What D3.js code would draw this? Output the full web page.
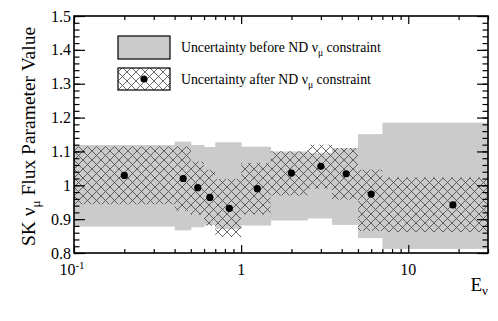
<!DOCTYPE html>
<html>
<head>
<meta charset="utf-8">
<script src="https://cdn.jsdelivr.net/npm/d3@7"></script>
<style>
  body { margin: 0; background: #fff; }
  svg { display: block; font-family: "Liberation Serif", "Times New Roman", serif; }
  .axis path { display: none; }
  .axis line { stroke: #000; stroke-width: 1.2; }
</style>
</head>
<body>
<div id="chart"></div>
<script>
// bins of neutrino energy (GeV), first bin starts at 0
var binLow = [0, 0.4, 0.5, 0.6, 0.7, 1.0, 1.5, 2.5, 3.5, 5.0, 7.0]
var binHigh = [0.4, 0.5, 0.6, 0.7, 1.0, 1.5, 2.5, 3.5, 5.0, 7.0, 30]
var binCenter = [0.2, 0.45, 0.55, 0.65, 0.85, 1.25, 2.0, 3.0, 4.25, 6.0, 18.5]
// post-fit central values
var postValue = [1.029, 1.020, 0.993, 0.964, 0.932, 0.990, 1.036, 1.056, 1.034, 0.974, 0.942]
// band before ND constraint
var preHigh = [1.119, 1.129, 1.119, 1.113, 1.127, 1.114, 1.100, 1.095, 1.110, 1.151, 1.185]
var preLow = [0.878, 0.867, 0.876, 0.883, 0.871, 0.881, 0.896, 0.902, 0.883, 0.844, 0.812]
// band after ND constraint
var postHigh = [1.115, 1.115, 1.070, 1.046, 1.019, 1.066, 1.100, 1.120, 1.110, 1.046, 1.023]
var postLow = [0.944, 0.925, 0.913, 0.880, 0.847, 0.914, 0.970, 0.990, 0.958, 0.865, 0.862]

var xMajor = [0.1, 1, 10]
var xMinor = [0.2, 0.3, 0.4, 0.5, 0.6, 0.7, 0.8, 0.9, 2, 3, 4, 5, 6, 7, 8, 9, 20, 30]
var yMajor = [0.8, 0.9, 1.0, 1.1, 1.2, 1.3, 1.4, 1.5]
var yLabels = ["0.8", "0.9", "1", "1.1", "1.2", "1.3", "1.4", "1.5"]

var W = 498, H = 321
var margin = {top: 16, right: 10, bottom: 68, left: 74}
var width = W - margin.left - margin.right,
    height = H - margin.top - margin.bottom

var svg = d3.select("#chart").append("svg")
    .attr("width", W).attr("height", H)

var defs = svg.append("defs")
var pat = defs.append("pattern")
    .attr("id", "xhatch")
    .attr("patternUnits", "userSpaceOnUse")
    .attr("width", 9).attr("height", 9)
pat.append("path").attr("d", "M0,0 L9,9 M-1,8 L1,10 M8,-1 L10,1")
    .attr("stroke", "#444").attr("stroke-width", 0.8)
pat.append("path").attr("d", "M0,9 L9,0 M-1,1 L1,-1 M8,10 L10,8")
    .attr("stroke", "#444").attr("stroke-width", 0.8)

var g = svg.append("g")
    .attr("transform", "translate(" + margin.left + "," + margin.top + ")")

var x = d3.scaleLog().domain([0.1, 30]).range([0, width])
var y = d3.scaleLinear().domain([0.8, 1.5]).range([height, 0])

function xl(v) { return x(Math.max(v, 0.1)) }

// gray band (before)
g.selectAll(".pre").data(binLow).enter().append("rect")
    .attr("x", function(d, i) { return xl(binLow[i]) })
    .attr("width", function(d, i) { return xl(binHigh[i]) - xl(binLow[i]) + 0.5 })
    .attr("y", function(d, i) { return y(preHigh[i]) })
    .attr("height", function(d, i) { return y(preLow[i]) - y(preHigh[i]) })
    .attr("fill", "#cbcbcb")

// hatched band (after)
g.selectAll(".post").data(binLow).enter().append("rect")
    .attr("x", function(d, i) { return xl(binLow[i]) })
    .attr("width", function(d, i) { return xl(binHigh[i]) - xl(binLow[i]) })
    .attr("y", function(d, i) { return y(postHigh[i]) })
    .attr("height", function(d, i) { return y(postLow[i]) - y(postHigh[i]) })
    .attr("fill", "url(#xhatch)")

// points
g.selectAll(".pt").data(binCenter).enter().append("circle")
    .attr("cx", function(d) { return x(d) })
    .attr("cy", function(d, i) { return y(postValue[i]) })
    .attr("r", 3.6)
    .attr("fill", "#000")

// axes with inward ticks
function addAxis(axis, tr) {
    var a = g.append("g").attr("class", "axis")
    if (tr) a.attr("transform", tr)
    a.call(axis)
    return a
}
addAxis(d3.axisBottom(x).tickValues(xMajor).tickSize(-8).tickFormat(""), "translate(0," + height + ")")
addAxis(d3.axisBottom(x).tickValues(xMinor).tickSize(-4).tickFormat(""), "translate(0," + height + ")")
addAxis(d3.axisTop(x).tickValues(xMajor).tickSize(-8).tickFormat(""))
addAxis(d3.axisTop(x).tickValues(xMinor).tickSize(-4).tickFormat(""))
var yMinor = d3.range(0.8, 1.5001, 0.02)
addAxis(d3.axisLeft(y).tickValues(yMajor).tickSize(-11).tickFormat(""))
addAxis(d3.axisLeft(y).tickValues(yMinor).tickSize(-5.5).tickFormat(""))
addAxis(d3.axisRight(y).tickValues(yMajor).tickSize(-11).tickFormat(""), "translate(" + width + ",0)")
addAxis(d3.axisRight(y).tickValues(yMinor).tickSize(-5.5).tickFormat(""), "translate(" + width + ",0)")

// frame
g.append("rect").attr("width", width).attr("height", height)
    .attr("fill", "none").attr("stroke", "#000").attr("stroke-width", 1.6)

// y tick labels
g.selectAll(".ylab").data(yMajor).enter().append("text")
    .attr("x", -3).attr("y", function(d) { return y(d) + 5.5 })
    .attr("text-anchor", "end").attr("font-size", 16)
    .text(function(d, i) { return yLabels[i] })

// x tick labels
var lab01 = g.append("text").attr("x", x(0.1) - 2).attr("y", height + 22)
    .attr("text-anchor", "middle").attr("font-size", 16)
lab01.append("tspan").text("10")
lab01.append("tspan").attr("dy", -6).attr("font-size", 11).text("-1")
g.append("text").attr("x", x(1)).attr("y", height + 22)
    .attr("text-anchor", "middle").attr("font-size", 16).text("1")
g.append("text").attr("x", x(10)).attr("y", height + 22)
    .attr("text-anchor", "middle").attr("font-size", 16).text("10")

// axis titles
var xt = g.append("text").attr("x", width).attr("y", height + 38)
    .attr("text-anchor", "end").attr("font-size", 19)
xt.append("tspan").text("E")
xt.append("tspan").attr("dy", 4).attr("font-size", 13).text("ν")

var yt = svg.append("text")
    .attr("transform", "translate(35," + (margin.top + height / 2 + 2) + ") rotate(-90)")
    .attr("text-anchor", "middle").attr("font-size", 19.5)
yt.append("tspan").text("SK ν")
yt.append("tspan").attr("dy", 5).attr("font-size", 13).text("μ")
yt.append("tspan").attr("dy", -5).text(" Flux Parameter Value")

// legend
var leg = svg.append("g").attr("transform", "translate(118,36)")
leg.append("rect").attr("width", 52).attr("height", 23)
    .attr("fill", "#cbcbcb").attr("stroke", "#000").attr("stroke-width", 1.2)
leg.append("rect").attr("y", 32).attr("width", 52).attr("height", 22)
    .attr("fill", "#fff").attr("stroke", "none")
leg.append("rect").attr("y", 32).attr("width", 52).attr("height", 22)
    .attr("fill", "url(#xhatch)").attr("stroke", "#000").attr("stroke-width", 1.2)
leg.append("circle").attr("cx", 26).attr("cy", 43).attr("r", 3.6).attr("fill", "#000")

function legText(ty, pre) {
    var t = leg.append("text").attr("x", 63).attr("y", ty).attr("font-size", 13.8)
    t.append("tspan").text("Uncertainty " + pre + " ND ν")
    t.append("tspan").attr("dy", 4).attr("font-size", 9.5).text("μ")
    t.append("tspan").attr("dy", -4).text(" constraint")
}
legText(15.5, "before")
legText(47.5, "after")
</script>
</body>
</html>
